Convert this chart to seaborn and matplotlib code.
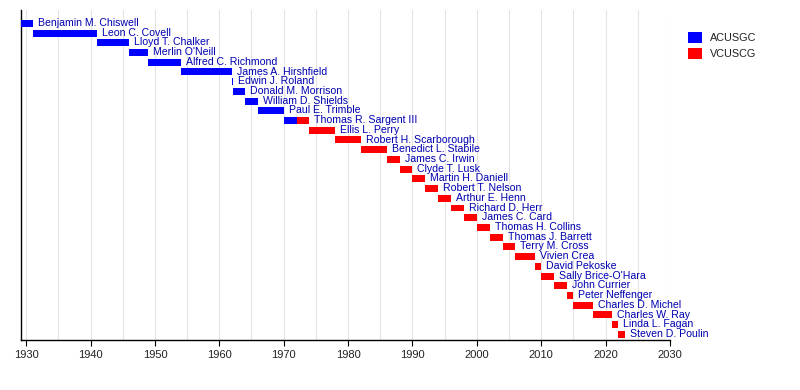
import pandas as pd
import seaborn as sns
import matplotlib.pyplot as plt
from matplotlib.patches import Patch
from matplotlib.ticker import MultipleLocator

# one entry per term; Sargent held both offices
term_name = [
    "Benjamin M. Chiswell", "Leon C. Covell", "Lloyd T. Chalker", "Merlin O'Neill",
    "Alfred C. Richmond", "James A. Hirshfield", "Edwin J. Roland", "Donald M. Morrison",
    "William D. Shields", "Paul E. Trimble", "Thomas R. Sargent III", "Thomas R. Sargent III",
    "Ellis L. Perry", "Robert H. Scarborough", "Benedict L. Stabile", "James C. Irwin",
    "Clyde T. Lusk", "Martin H. Daniell", "Robert T. Nelson", "Arthur E. Henn",
    "Richard D. Herr", "James C. Card", "Thomas H. Collins", "Thomas J. Barrett",
    "Terry M. Cross", "Vivien Crea", "David Pekoske", "Sally Brice-O'Hara",
    "John Currier", "Peter Neffenger", "Charles D. Michel", "Charles W. Ray",
    "Linda L. Fagan", "Steven D. Poulin",
]
term_start = [
    1929.2, 1931.0, 1941.0, 1946.0, 1949.0, 1954.0, 1962.0, 1962.1,
    1964.0, 1966.0, 1970.0, 1972.0, 1974.0, 1978.0, 1982.0, 1986.0,
    1988.0, 1990.0, 1992.0, 1994.0, 1996.0, 1998.0, 2000.0, 2002.0,
    2004.0, 2006.0, 2009.0, 2010.0, 2012.0, 2014.0, 2015.0, 2018.0,
    2021.0, 2022.0,
]
term_end = [
    1931.0, 1941.0, 1946.0, 1949.0, 1954.0, 1962.0, 1962.2, 1964.0,
    1966.0, 1970.0, 1972.0, 1974.0, 1978.0, 1982.0, 1986.0, 1988.0,
    1990.0, 1992.0, 1994.0, 1996.0, 1998.0, 2000.0, 2002.0, 2004.0,
    2006.0, 2009.0, 2010.0, 2012.0, 2014.0, 2015.0, 2018.0, 2021.0,
    2022.0, 2023.0,
]
term_office = ["ACUSGC"] * 11 + ["VCUSCG"] * 23

offices = ["ACUSGC", "VCUSCG"]
office_colors = {"ACUSGC": "#0000ff", "VCUSCG": "#ff0000"}

df = pd.DataFrame({"name": term_name, "start": term_start,
                   "end": term_end, "office": term_office})
people = list(dict.fromkeys(term_name))
df["row"] = df["name"].map({n: i for i, n in enumerate(people)})

sns.set_theme(style="white")
plt.rcParams["font.family"] = ["Liberation Sans", "DejaVu Sans"]

fig = plt.figure(figsize=(8, 3.9), dpi=100)
ax = fig.add_axes([21 / 800, 50 / 390, 649 / 800, 330 / 390])

ax.barh(df["row"], df["end"] - df["start"], left=df["start"], height=0.72,
        color=df["office"].map(office_colors), linewidth=0, zorder=3)

last_end = df.groupby("row")["end"].max()
for row, name in enumerate(people):
    ax.annotate(name, (last_end[row], row), xytext=(3.6, 0.3),
                textcoords="offset points", va="center", ha="left",
                fontsize=7.6, color="#0000b0", zorder=4)

ax.set_xlim(1929.2, 2030)
ax.set_ylim(32.58, -1.37)
ax.set_yticks([])
ax.xaxis.set_major_locator(MultipleLocator(10))
ax.xaxis.set_minor_locator(MultipleLocator(5))
ax.grid(True, axis="x", which="both", color="#e4e4e4", linewidth=0.8, zorder=0)
ax.tick_params(axis="x", which="major", bottom=True, length=4, width=0.8,
               color="black", labelsize=8, labelcolor="#222222", pad=3)
ax.tick_params(axis="x", which="minor", bottom=False)
for side in ["top", "right"]:
    ax.spines[side].set_visible(False)
for side in ["left", "bottom"]:
    ax.spines[side].set_color("black")
    ax.spines[side].set_linewidth(1.0)
ax.set_xlabel("")
ax.set_ylabel("")

handles = [Patch(facecolor=office_colors[o], edgecolor="none") for o in offices]
fig.legend(handles, offices, loc="upper left",
           bbox_to_anchor=(683 / 800, 1 - 27 / 390), frameon=False,
           fontsize=7.8, borderpad=0, handlelength=1.25, handleheight=1.15,
           handletextpad=0.75, labelspacing=0.45, labelcolor="#222222")

fig.savefig("out.png", dpi=100)
